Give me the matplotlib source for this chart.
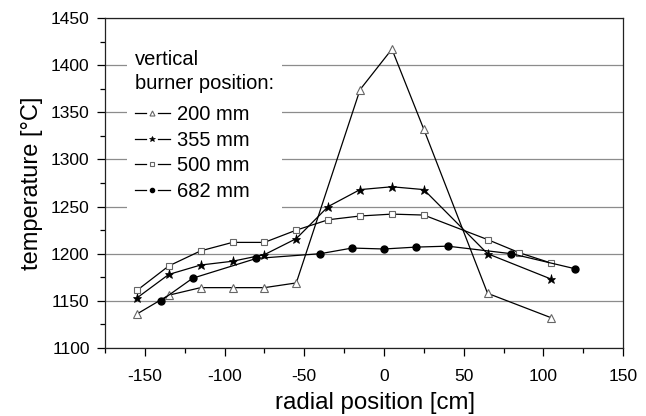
import matplotlib.pyplot as plt
from matplotlib.lines import Line2D
from matplotlib.legend_handler import HandlerLine2D
from matplotlib.ticker import MultipleLocator

plt.rcParams['font.family'] = ['Liberation Sans', 'DejaVu Sans']
plt.rcParams['axes.unicode_minus'] = False

# radial profiles for each vertical burner position
x_200 = [-155, -135, -115, -95, -75, -55, -15, 5, 25, 65, 105]
t_200 = [1136, 1156, 1164, 1164, 1164, 1169, 1374, 1417, 1332, 1158, 1132]

x_355 = [-155, -135, -115, -95, -75, -55, -35, -15, 5, 25, 65, 105]
t_355 = [1153, 1178, 1188, 1192, 1199, 1216, 1250, 1268, 1271, 1268, 1200, 1173]

x_500 = [-155, -135, -115, -95, -75, -55, -35, -15, 5, 25, 65, 85, 105]
t_500 = [1161, 1187, 1203, 1212, 1212, 1225, 1236, 1240, 1242, 1241, 1215, 1201, 1190]

x_682 = [-140, -120, -80, -40, -20, 0, 20, 40, 80, 120]
t_682 = [1150, 1174, 1195, 1200, 1206, 1205, 1207, 1208, 1200, 1184]


class GapLineHandler(HandlerLine2D):
    """Legend handle drawn as a line with a small gap on both sides of the marker."""

    def create_artists(self, legend, orig, xdescent, ydescent, width, height,
                       fontsize, trans):
        y = height / 2 - ydescent
        gap = 0.17 * width
        mid = width / 2 - xdescent
        left = Line2D([-xdescent, mid - gap], [y, y])
        right = Line2D([mid + gap, width - xdescent], [y, y])
        for seg in (left, right):
            seg.set_color(orig.get_color())
            seg.set_linewidth(orig.get_linewidth())
            seg.set_transform(trans)
        mark = Line2D([mid], [y], linestyle='none', marker=orig.get_marker(),
                      markersize=orig.get_markersize() * 0.6,
                      markerfacecolor=orig.get_markerfacecolor(),
                      markeredgecolor=orig.get_markeredgecolor(),
                      markeredgewidth=orig.get_markeredgewidth())
        mark.set_transform(trans)
        return [left, right, mark]


fig = plt.figure(figsize=(6.46, 4.16), dpi=100)
ax = fig.add_axes([0.1625, 0.1635, 0.802, 0.7932])

lw = 0.9
l1, = ax.plot(x_200, t_200, color='k', lw=lw, marker='^', ms=6, mfc='white', mec='#666666', mew=0.8, label='200 mm')
l2, = ax.plot(x_355, t_355, color='k', lw=lw, marker='*', ms=6.5, mfc='k', mec='k', mew=0.5, label='355 mm')
l3, = ax.plot(x_500, t_500, color='k', lw=lw, marker='s', ms=5, mfc='white', mec='#666666', mew=0.8, label='500 mm')
l4, = ax.plot(x_682, t_682, color='k', lw=lw, marker='o', ms=5, mfc='k', mec='k', label='682 mm')

ax.set_xlim(-175, 150)
ax.set_ylim(1100, 1450)
ax.xaxis.set_major_locator(MultipleLocator(50))
ax.xaxis.set_minor_locator(MultipleLocator(25))
ax.yaxis.set_major_locator(MultipleLocator(50))
ax.yaxis.set_minor_locator(MultipleLocator(25))
ax.tick_params(which='major', direction='out', length=6, width=0.9, labelsize=12.5, pad=5)
ax.tick_params(axis='x', which='major', pad=9)
ax.tick_params(which='minor', direction='out', length=3.5, width=0.9)
ax.grid(axis='y', which='major', color='#8c8c8c', lw=0.9)
ax.set_axisbelow(True)
for s in ax.spines.values():
    s.set_linewidth(0.9)
    s.set_color('#222222')

ax.set_xlabel('radial position [cm]', fontsize=17.3)
ax.set_ylabel('temperature [°C]', fontsize=17, labelpad=6)
ax.xaxis.set_label_coords(0.522, -0.133)

leg = ax.legend(handles=[l1, l2, l3, l4], title='vertical\nburner position:',
                loc='upper left', bbox_to_anchor=(0.042, 0.927),
                fontsize=14.5, title_fontsize=14.5, alignment='left',
                frameon=True, facecolor='white', edgecolor='none', framealpha=1,
                fancybox=False, handlelength=1.75, handletextpad=0.35,
                labelspacing=0.32, borderpad=0.4, borderaxespad=0,
                handler_map={Line2D: GapLineHandler()})
leg.get_title().set_linespacing(1.35)
# a bit more room between the title and the entries
leg._legend_box.sep += 4

fig.savefig('out.png', dpi=100)
